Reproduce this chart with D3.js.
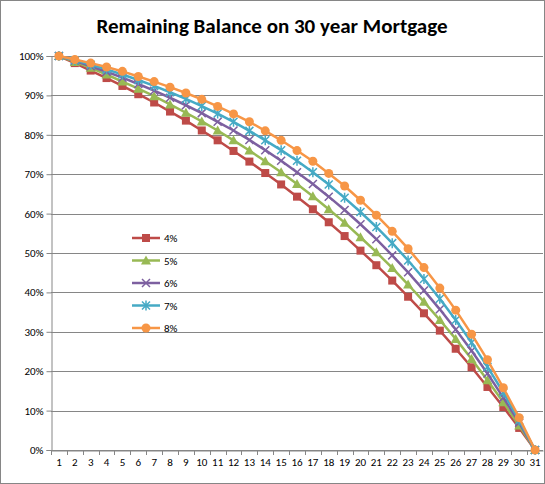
<!DOCTYPE html>
<html><head><meta charset="utf-8">
<script src="https://cdn.jsdelivr.net/npm/d3@7"></script>
<style>body{margin:0;background:#fff}text{font-family:Calibri,Carlito,"Liberation Sans",Arial,sans-serif}</style>
</head><body><div id="chart"></div>
<script>
// years 1..31, remaining balance fraction
var years = d3.range(1, 32);
var r4 = [1,.982,.963,.944,.924,.903,.882,.859,.836,.811,.786,.759,.732,.703,.674,.643,.611,.578,.543,.506,.469,.430,.389,.347,.303,.257,.210,.160,.109,.056,0];
var r5 = [1,.985,.970,.953,.935,.917,.898,.877,.856,.834,.811,.786,.760,.733,.705,.675,.644,.611,.577,.540,.502,.462,.420,.376,.330,.282,.231,.177,.121,.062,0];
var r6 = [1,.988,.974,.960,.945,.929,.912,.894,.875,.855,.833,.811,.787,.761,.734,.705,.675,.643,.609,.573,.535,.494,.451,.405,.357,.306,.252,.194,.133,.069,0];
var r7 = [1,.989,.978,.966,.953,.939,.924,.908,.891,.873,.854,.833,.810,.786,.761,.734,.705,.674,.640,.604,.566,.525,.481,.434,.384,.330,.273,.211,.146,.075,0];
var r8 = [1,.991,.982,.972,.961,.948,.935,.921,.906,.890,.872,.853,.833,.810,.786,.760,.733,.702,.670,.634,.596,.555,.511,.463,.411,.355,.294,.229,.158,.082,0];
var seriesNames = ['4%','5%','6%','7%','8%'];
var colors = ['#BE4B48','#98B954','#7D60A0','#46AAC5','#F79646'];
var markers = ['square','triangle','x','star','circle'];
var yTicks = d3.range(0, 1.01, 0.1);

var series = [r4, r5, r6, r7, r8];
var W = 545, H = 484;
var svg = d3.select('#chart').append('svg').attr('width', W).attr('height', H);
svg.append('rect').attr('x', .5).attr('y', .5).attr('width', W-1).attr('height', H-1)
  .attr('fill', '#fff').attr('stroke', '#868686');

svg.append('text').attr('x', 272).attr('y', 33).attr('text-anchor', 'middle')
  .attr('font-size', 21).attr('font-weight', 'bold').text('Remaining Balance on 30 year Mortgage');

var x = d3.scaleBand().domain(years).range([51, 543]);
var y = d3.scaleLinear().domain([0, 1]).range([450, 56]);

// gridlines
svg.selectAll('.grid').data(yTicks).enter().append('line')
  .attr('x1', 51).attr('x2', 543)
  .attr('y1', function(d){ return Math.round(y(d)) + .5 })
  .attr('y2', function(d){ return Math.round(y(d)) + .5 })
  .attr('stroke', '#868686').attr('stroke-width', 1);

var yAxis = svg.append('g').attr('transform', 'translate(51.5,0)')
  .call(d3.axisLeft(y).tickValues(yTicks).tickFormat(d3.format('.0%')).tickSize(5));
var xAxis = svg.append('g').attr('transform', 'translate(0,450.5)')
  .call(d3.axisBottom(x).tickSize(0));
[yAxis, xAxis].forEach(function(a){
  a.selectAll('path,line').attr('stroke', '#868686');
  a.selectAll('text').attr('font-size', 11).attr('fill', '#000');
});
xAxis.selectAll('text').attr('dy', '1.1em');
svg.selectAll('.xt').data(years).enter().append('line')
  .attr('x1', function(d){ return Math.round(x(d)) + .5 }).attr('x2', function(d){ return Math.round(x(d)) + .5 })
  .attr('y1', 450).attr('y2', 455).attr('stroke', '#868686');

function marker(g, type, color) {
  if (type == 'square') g.append('rect').attr('x', -4).attr('y', -4).attr('width', 8).attr('height', 8).attr('fill', color);
  else if (type == 'triangle') g.append('path').attr('d', 'M0,-5L5,4L-5,4Z').attr('fill', color);
  else if (type == 'circle') g.append('circle').attr('r', 4.5).attr('fill', color);
  else if (type == 'x') g.append('path').attr('d', 'M-4,-4L4,4M-4,4L4,-4').attr('stroke', color).attr('stroke-width', 1.5);
  else g.append('path').attr('d', 'M-4,-4L4,4M-4,4L4,-4M0,-5V5').attr('stroke', color).attr('stroke-width', 1.5);
}

var line = d3.line().x(function(d, i){ return x(years[i]) + x.bandwidth()/2 }).y(function(d){ return y(d) });
series.forEach(function(s, k) {
  svg.append('path').datum(s).attr('d', line).attr('fill', 'none')
    .attr('stroke', colors[k]).attr('stroke-width', 2.5);
  s.forEach(function(v, i) {
    var g = svg.append('g').attr('transform', 'translate(' + (x(years[i]) + x.bandwidth()/2) + ',' + y(v) + ')');
    marker(g, markers[k], colors[k]);
  });
});

// legend
seriesNames.forEach(function(n, k) {
  var ly = 238 + k * 22.5;
  svg.append('line').attr('x1', 132).attr('x2', 160).attr('y1', ly).attr('y2', ly)
    .attr('stroke', colors[k]).attr('stroke-width', 2.5);
  marker(svg.append('g').attr('transform', 'translate(146,' + ly + ')'), markers[k], colors[k]);
  svg.append('text').attr('x', 164).attr('y', ly + 4).attr('font-size', 11).text(n);
});
</script></body></html>
